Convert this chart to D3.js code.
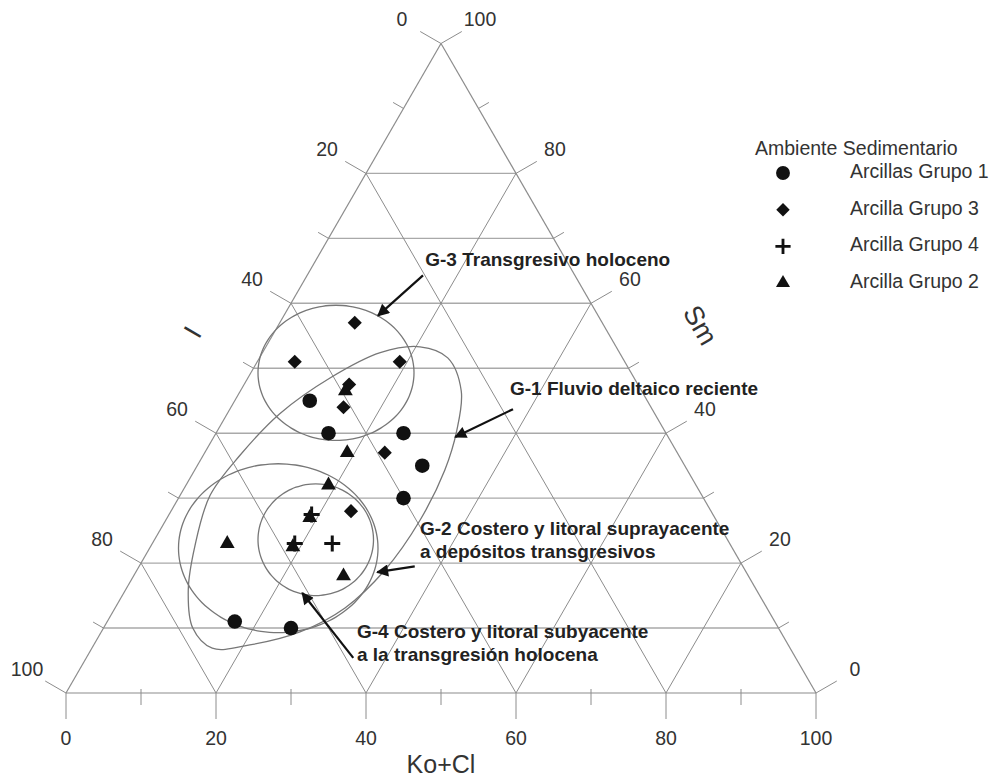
<!DOCTYPE html>
<html><head><meta charset="utf-8">
<script src="https://cdn.jsdelivr.net/npm/d3@7"></script>
<style>body{margin:0;background:#fff} svg{display:block;font-family:"Liberation Sans",Arial,sans-serif}</style>
</head><body>
<svg id="c" width="990" height="778"></svg>
<script>
// ---- data (percentages: [Ko+Cl, Sm]; I = 100 - Ko+Cl - Sm) ----
const majorTicks = [0, 20, 40, 60, 80, 100];
const minorTicks = [10, 30, 50, 70, 90];
const gridSlant = [20, 40, 60, 80];
const gridHoriz = [10, 20, 30, 40, 50, 60, 70, 80];

const grupo1 = [[10,45],[15,40],[25,40],[30,35],[30,30],[17,11],[25,10]];           // circles
const grupo3 = [[10,57],[5,51],[19,51],[14,47.5],[15,44],[24,37],[24,28]];         // diamonds
const grupo4 = [[19,27.5],[24,23],[19,23]];                                        // plus
const grupo2 = [[14,46.5],[19,37],[19,32],[10,23],[28,18],[19,27],[19,22.5]];      // triangles

const legendLabels = ["Arcillas Grupo 1","Arcilla Grupo 3","Arcilla Grupo 4","Arcilla Grupo 2"];
const legendKinds  = ["circle","diamond","plus","triangle"];

// group envelopes in plot units: X = Ko+Cl + Sm/2, Y = Sm
const envG3 = {cx:36.0, cy:49.3, rx:10.4, ry:10.4, rot:0};
const envG4 = {cx:33.3, cy:23.6, rx:7.7, ry:8.6, rot:0};
const envG2 = {cx:28.3, cy:22.3, rx:13.3, ry:13.0, rot:0};
const envG1 = [[47.2,53.3],[50.9,51.6],[52.7,46.5],[52.1,40.4],[50.5,34.3],[47.2,26.6],[42.5,18.9],
  [37.2,13.1],[31.2,9.4],[24.5,7.4],[19.5,6.9],[16.9,10.0],[16.3,15.8],[17.2,22.7],[19.2,30.4],
  [23.2,36.6],[28.5,43.0],[35.2,48.5],[41.9,52.4]];

const annotations = [
  {lines:["G-3 Transgresivo holoceno"], x:47.9, y:66.5, from:[47.6,64.3], to:[41.6,58.1]},
  {lines:["G-1 Fluvio deltaico reciente"], x:59.2, y:46.6, from:[59.6,43.7], to:[51.9,39.4]},
  {lines:["G-2 Costero y litoral suprayacente","a depósitos transgresivos"], x:47.2, y:25.1, from:[46.5,19.5], to:[41.5,18.6]},
  {lines:["G-4 Costero y litoral subyacente","a la transgresión holocena"], x:38.8, y:9.2, from:[38.3,5.4], to:[31.5,15.4]}
];

// ---- geometry ----
const svg = d3.select("#c");
const xs = d3.scaleLinear().domain([0,100]).range([66,816]);
const ys = d3.scaleLinear().domain([0,100]).range([693,43.5]);
const P = (k,s) => [xs(k + s/2), ys(s)];
const gridCol = "#8c8c8c";
const c30 = Math.cos(Math.PI/6), s30 = 0.5;
const FS = 19.5;

const g = svg.append("g");
const line = (a,b,col,w) => g.append("line").attr("x1",a[0]).attr("y1",a[1]).attr("x2",b[0]).attr("y2",b[1])
  .attr("stroke",col).attr("stroke-width",w);

// horizontal grid
gridHoriz.forEach(s => line(P(0,s), P(100-s,s), "#a9a9a9", 1.4));
// slanted grid
gridSlant.forEach(t => { line(P(t,0), P(t,100-t), gridCol, 1); line(P(t,0), P(0,t), gridCol, 1); });
// frame
line(P(0,0),P(100,0),gridCol,1.2); line(P(0,0),P(0,100),gridCol,1.2); line(P(100,0),P(0,100),gridCol,1.2);

// bottom axis ticks
majorTicks.forEach(t => {
  const p = P(t,0); line(p,[p[0],p[1]+26],gridCol,1);
  g.append("text").attr("x",p[0]).attr("y",p[1]+47).attr("text-anchor","middle").attr("dominant-baseline","middle")
    .attr("font-size",FS).attr("fill","#333").text(t);
});
minorTicks.forEach(t => { const p = P(t,0); line([p[0],p[1]-4],[p[0],p[1]+12],gridCol,1); });
// left edge ticks (I)
majorTicks.forEach(s => {
  const p = P(0,s); line(p,[p[0]-24*c30,p[1]-24*s30],gridCol,1);
  g.append("text").attr("x",p[0]-45*c30).attr("y",p[1]-45*s30).attr("text-anchor","middle").attr("dominant-baseline","middle")
    .attr("font-size",FS).attr("fill","#333").text(100-s);
});
minorTicks.forEach(s => { const p = P(0,s); line(p,[p[0]-12*c30,p[1]-12*s30],gridCol,1); });
// right edge ticks (Sm)
majorTicks.forEach(s => {
  const p = P(100-s,s); line(p,[p[0]+24*c30,p[1]-24*s30],gridCol,1);
  g.append("text").attr("x",p[0]+45*c30).attr("y",p[1]-45*s30).attr("text-anchor","middle").attr("dominant-baseline","middle")
    .attr("font-size",FS).attr("fill","#333").text(s);
});
minorTicks.forEach(s => { const p = P(100-s,s); line(p,[p[0]+12*c30,p[1]-12*s30],gridCol,1); });

// axis titles
g.append("text").attr("x",xs(50)).attr("y",ys(0)+73).attr("text-anchor","middle").attr("dominant-baseline","middle")
  .attr("font-size",25).attr("fill","#333").text("Ko+Cl");
const lp = P(0,50);
g.append("text").attr("transform",`translate(${lp[0]-59},${lp[1]-35}) rotate(-60)`).attr("text-anchor","middle")
  .attr("dominant-baseline","middle").attr("font-size",27).attr("fill","#333").text("I");
const rp = P(50,50);
g.append("text").attr("transform",`translate(${rp[0]+70},${rp[1]-42}) rotate(60)`).attr("text-anchor","middle")
  .attr("dominant-baseline","middle").attr("font-size",27).attr("fill","#333").text("Sm");

// envelopes
const ellipsePts = e => d3.range(0, 72).map(i => {
  const t = i/72*2*Math.PI, r = e.rot*Math.PI/180;
  const dx = e.rx*Math.cos(t), dy = e.ry*Math.sin(t);
  return [e.cx + dx*Math.cos(r) - dy*Math.sin(r), e.cy + dx*Math.sin(r) + dy*Math.cos(r)];
});
const env = d3.line().x(d => xs(d[0])).y(d => ys(d[1])).curve(d3.curveCatmullRomClosed);
[ellipsePts(envG3), ellipsePts(envG4), ellipsePts(envG2), envG1].forEach(pts =>
  g.append("path").attr("d", env(pts)).attr("fill","none").attr("stroke","#777").attr("stroke-width",1.3));

// symbols
function sym(sel, kind, x, y, sc) {
  sc = sc || 1;
  if (kind === "circle") sel.append("circle").attr("cx",x).attr("cy",y).attr("r",7.3*sc).attr("fill","#111");
  else if (kind === "diamond") sel.append("path").attr("d", d3.symbol(d3.symbolSquare, 100*sc*sc)())
      .attr("transform",`translate(${x},${y}) rotate(45)`).attr("fill","#111");
  else if (kind === "triangle") sel.append("path").attr("d", d3.symbol(d3.symbolTriangle, 95*sc*sc)())
      .attr("transform",`translate(${x},${y})`).attr("fill","#111");
  else if (kind === "plus") {
    const h = 8*sc;
    sel.append("path").attr("d",`M${x-h},${y}H${x+h}M${x},${y-h}V${y+h}`).attr("stroke","#111").attr("stroke-width",3*sc);
  }
}
const pts = g.append("g");
grupo1.forEach(d => { const p = P(d[0],d[1]); sym(pts,"circle",p[0],p[1]); });
grupo3.forEach(d => { const p = P(d[0],d[1]); sym(pts,"diamond",p[0],p[1]); });
grupo2.forEach(d => { const p = P(d[0],d[1]); sym(pts,"triangle",p[0],p[1]); });
grupo4.forEach(d => { const p = P(d[0],d[1]); sym(pts,"plus",p[0],p[1]); });

// annotations
svg.append("defs").append("marker").attr("id","ah").attr("viewBox","0 0 10 10").attr("refX",9).attr("refY",5)
  .attr("markerWidth",7).attr("markerHeight",5.5).attr("markerUnits","strokeWidth").attr("orient","auto")
  .append("path").attr("d","M0,0L10,5L0,10z").attr("fill","#111");
annotations.forEach(a => {
  const f = [xs(a.from[0]), ys(a.from[1])], t = [xs(a.to[0]), ys(a.to[1])];
  g.append("line").attr("x1",f[0]).attr("y1",f[1]).attr("x2",t[0]).attr("y2",t[1])
    .attr("stroke","#111").attr("stroke-width",2.2).attr("marker-end","url(#ah)");
  a.lines.forEach((l,i) => g.append("text").attr("x",xs(a.x)).attr("y",ys(a.y)+i*23).attr("dominant-baseline","middle")
    .attr("font-size",19).attr("font-weight","bold").attr("fill","#222").text(l));
});

// legend
const lg = svg.append("g");
lg.append("text").attr("x",755).attr("y",150).attr("dominant-baseline","middle").attr("font-size",FS).attr("fill","#333")
  .text("Ambiente Sedimentario");
const legY = d3.scalePoint().domain(legendLabels).range([173,283]);
legendLabels.forEach((l,i) => {
  const y = legY(l);
  sym(lg, legendKinds[i], 783, y, 0.95);
  lg.append("text").attr("x",850).attr("y",y).attr("dominant-baseline","middle").attr("font-size",FS).attr("fill","#333").text(l);
});
</script>
</body></html>
